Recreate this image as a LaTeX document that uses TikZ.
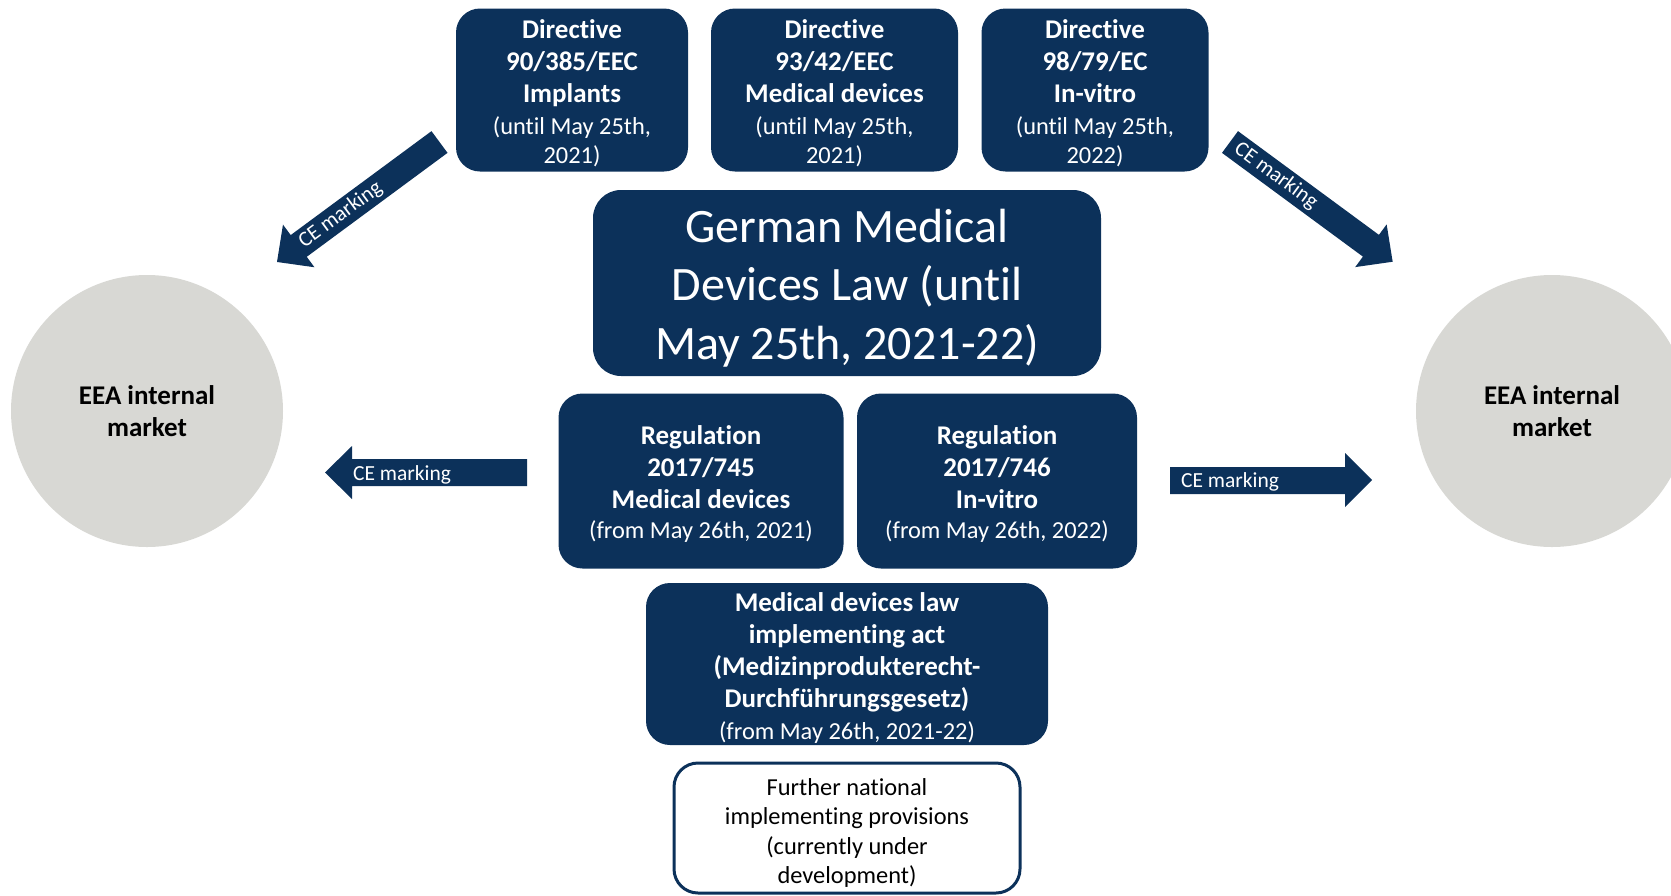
\documentclass[tikz,border=0pt]{standalone}
\usepackage{fontspec}
\setmainfont{Carlito}[Ligatures={NoCommon}]
\definecolor{navy}{RGB}{12,49,90}
\definecolor{eeagray}{RGB}{216,216,212}
\newcommand\rgfont{\fontsize{24.4}{29}\selectfont}
\begin{document}
\begin{tikzpicture}[x=1pt,y=-1pt,
  navybox/.style={fill=navy, rounded corners=24pt, inner sep=0pt},
  boxtext/.style={text=white, align=center, inner sep=0pt, font=\fontsize{27}{32}\selectfont},
  whitebox/.style={draw=navy, line width=3pt, fill=white, rounded corners=24pt, inner sep=0pt},
  whitetext/.style={text=black, align=center, inner sep=0pt, font=\fontsize{24.4}{29.5}\selectfont},
  market/.style={circle, fill=eeagray, minimum size=272pt, inner sep=0pt, align=center,
    font=\fontsize{27}{32}\selectfont\bfseries},
  cearrow/.style={fill=navy},
  celabel/.style={text=white, inner sep=0pt, font=\fontsize{21.5}{24}\selectfont}]
\useasboundingbox (0,0) rectangle (1671,895);
\clip (0,0) rectangle (1671,895);

% markets
\node[market] (eeaL) at (147,411) {EEA internal\\market};
\node[market] (eeaR) at (1552,411) {EEA internal\\market};

% top directives
\node[navybox, minimum width=232pt, minimum height=163pt] (d1) at (572,90) {};
\node[boxtext] (d1t) at ([yshift=-3pt]d1.center)
  {\textbf{Directive}\\\textbf{90/385/EEC}\\\textbf{Implants}\\{\rgfont (until May 25th,}\\[-3pt]{\rgfont 2021)}};
\node[navybox, minimum width=247pt, minimum height=163pt] (d2) at (834.5,90) {};
\node[boxtext] (d2t) at ([yshift=-3pt]d2.center)
  {\textbf{Directive}\\\textbf{93/42/EEC}\\\textbf{Medical devices}\\{\rgfont (until May 25th,}\\[-3pt]{\rgfont 2021)}};
\node[navybox, minimum width=227pt, minimum height=163pt] (d3) at (1095,90) {};
\node[boxtext] (d3t) at ([yshift=-3pt]d3.center)
  {\textbf{Directive}\\\textbf{98/79/EC}\\\textbf{In-vitro}\\{\rgfont (until May 25th,}\\[-3pt]{\rgfont 2022)}};

% German law
\node[navybox, rounded corners=28pt, minimum width=508pt, minimum height=186pt] (gml) at (847,283) {};
\node[boxtext, font=\fontsize{48}{58.6}\selectfont] (gmlt) at ([yshift=-5pt]gml.center)
  {German Medical\\Devices Law (until\\May 25th, 2021-22)};

% regulations
\node[navybox, minimum width=285pt, minimum height=175pt] (r745) at (701,481) {};
\node[boxtext] (r745t) at ([yshift=-3pt]r745.center)
  {\textbf{Regulation}\\\textbf{2017/745}\\\textbf{Medical devices}\\[-2pt]{\rgfont (from May 26th, 2021)}};
\node[navybox, minimum width=280pt, minimum height=175pt] (r746) at (997,481) {};
\node[boxtext] (r746t) at ([yshift=-3pt]r746.center)
  {\textbf{Regulation}\\\textbf{2017/746}\\\textbf{In-vitro}\\[-2pt]{\rgfont (from May 26th, 2022)}};

% implementing act
\node[navybox, minimum width=402pt, minimum height=162pt] (mdl) at (847,664) {};
\node[boxtext] (mdlt) at ([yshift=-3.7pt]mdl.center)
  {\textbf{Medical devices law}\\\textbf{implementing act}\\\textbf{(Medizinprodukterecht-}\\\textbf{Durchführungsgesetz)}\\{\rgfont (from May 26th, 2021-22)}};

% further provisions
\node[whitebox, minimum width=346pt, minimum height=130pt] (fnp) at (847,828) {};
\node[whitetext] (fnpt) at ([yshift=-4.8pt]fnp.center)
  {Further national\\implementing provisions\\(currently under\\development)};

% horizontal arrows
\fill[cearrow] (527,459) -- (352,459) -- (352,446) -- (325,472.5) -- (352,499) -- (352,486) -- (527,486) -- cycle;
\node[celabel] (lblL) at (402,475) {CE marking};
\fill[cearrow] (1170,467) -- (1345,467) -- (1345,453) -- (1372,480) -- (1345,507) -- (1345,494) -- (1170,494) -- cycle;
\node[celabel] (lblR) at (1230,482) {CE marking};

% diagonal arrows
\begin{scope}[shift={(439.5,142)}, rotate=-143.56]
  \fill[cearrow] (0,-13.5) -- (175,-13.5) -- (175,-26.5) -- (202,0) -- (175,26.5) -- (175,13.5) -- (0,13.5) -- cycle;
  \node[celabel, rotate=36.44] (lblDL) at (123,0) {CE marking};
\end{scope}
\begin{scope}[shift={(1230,142)}, rotate=-36.36]
  \fill[cearrow] (0,-13.5) -- (175,-13.5) -- (175,-26.5) -- (202,0) -- (175,26.5) -- (175,13.5) -- (0,13.5) -- cycle;
  \node[celabel, rotate=-36.36] (lblDR) at (57,0) {CE marking};
\end{scope}
\end{tikzpicture}
\end{document}
